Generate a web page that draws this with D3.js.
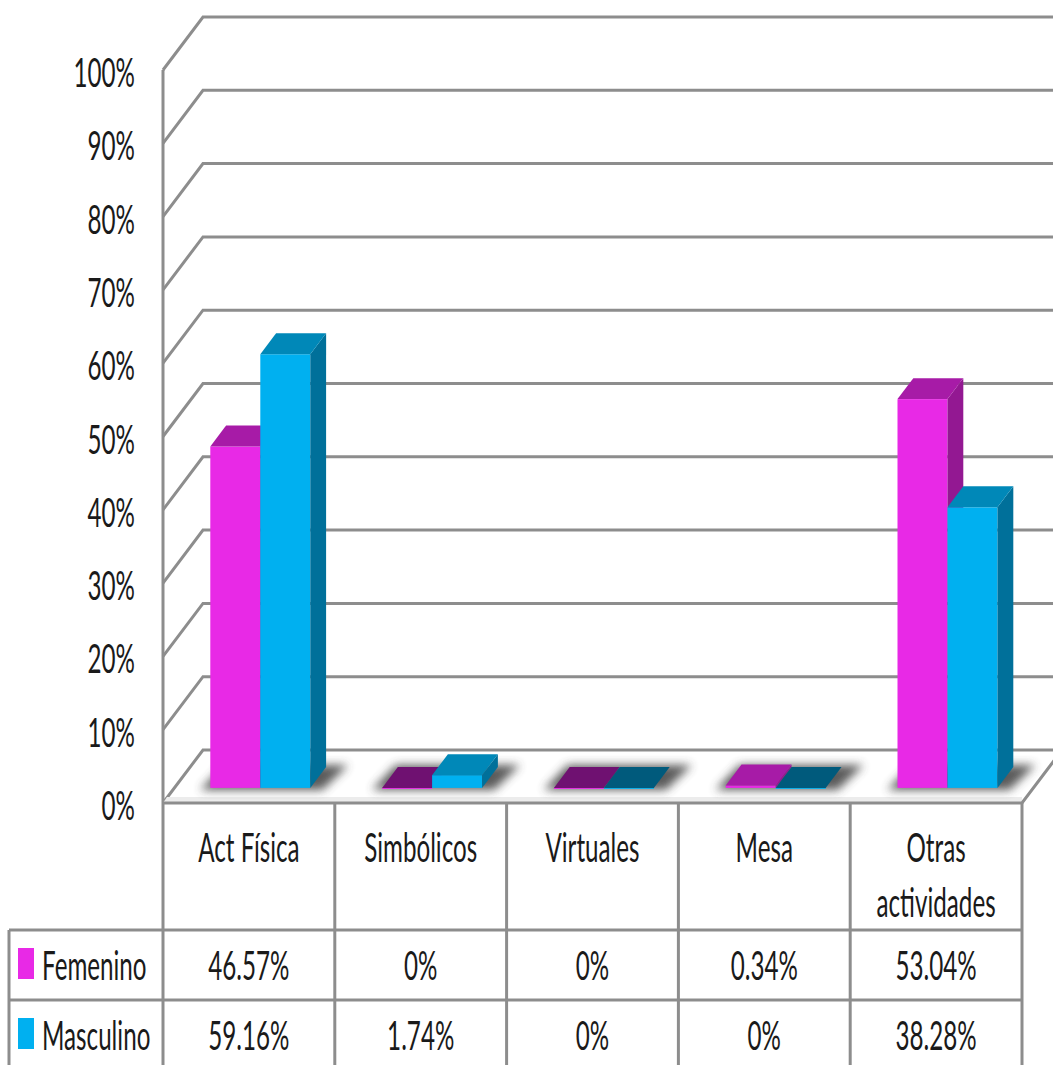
<!DOCTYPE html>
<html>
<head>
<meta charset="utf-8">
<script src="https://cdn.jsdelivr.net/npm/d3@7"></script>
<style>
  html, body { margin: 0; padding: 0; background: #ffffff; }
  svg { display: block; }
  text { font-family: Lato, "Open Sans", sans-serif; font-weight: 400; fill: #1a1a1a; }
</style>
</head>
<body>
<svg id="chart" width="1053" height="1065"></svg>
<script>
// ---- data ----
const categories = ["Act Física", "Simbólicos", "Virtuales", "Mesa", "Otras actividades"];
const categoryLines = [["Act Física"], ["Simbólicos"], ["Virtuales"], ["Mesa"], ["Otras", "actividades"]];
const seriesNames = ["Femenino", "Masculino"];
const femenino = [46.57, 0, 0, 0.34, 53.04];
const masculino = [59.16, 1.74, 0, 0, 38.28];
const yTicks = [0, 10, 20, 30, 40, 50, 60, 70, 80, 90, 100];

// ---- look ----
const W = 1053, H = 1065;
const palette = {
  Femenino:  { front: "#e829e6", top: "#a71ba7", side: "#931892", flat: "#6f1171" },
  Masculino: { front: "#00b0f0", top: "#0088b8", side: "#00709a", flat: "#005a7c" }
};
const gridColor = "#8d8d8d";
const SX = 0.59;            // horizontal squeeze of the label font
const FONT = 41;

// plot frame (front plane) and depth of the 3D box
const left = 163, right = 1022, floorY = 803, topY = 70;
const DX = 40, DY = -53;     // full depth offset of the back wall
const tFront = 0.285, tBack = 0.68; // depth slab occupied by the columns

const svg = d3.select("#chart");

const x = d3.scaleBand().domain(categories).range([left, right]).paddingInner(0).paddingOuter(0);
const y = d3.scaleLinear().domain([0, 100]).range([floorY, topY]);
const xs = d3.scaleBand().domain(seriesNames)
  .range([-50, 50]);

function label(g, px, py, s, anchor) {
  g.append("text")
    .attr("transform", `translate(${px},${py}) scale(${SX},1)`)
    .attr("text-anchor", anchor)
    .attr("font-size", FONT)
    .text(s);
}

const defs = svg.append("defs");
defs.append("filter").attr("id", "soft")
  .attr("x", "-30%").attr("y", "-60%").attr("width", "160%").attr("height", "220%")
  .append("feGaussianBlur").attr("stdDeviation", 5);

// ---- walls: gridlines on the side wall and back wall ----
const grid = svg.append("g").attr("stroke", gridColor).attr("stroke-width", 3).attr("fill", "none");
yTicks.forEach(t => {
  const yf = y(t);
  grid.append("path").attr("d", `M${left},${yf}L${left + DX},${yf + DY}L${W + 5},${yf + DY}`);
});
// left edge of the wall
grid.append("line").attr("x1", left).attr("x2", left).attr("y1", y(100)).attr("y2", H + 2);

// ---- floor ----
const floor = svg.append("g");
floor.append("path")
  .attr("d", `M${left},${floorY}L${right},${floorY}L${right},${floorY - 6}L${left + 4},${floorY - 6}Z`)
  .attr("fill", "#ececec");
floor.append("path")
  .attr("d", `M${left},${floorY}L${right},${floorY}L${right + DX},${floorY + DY}`)
  .attr("fill", "none").attr("stroke", gridColor).attr("stroke-width", 3);

// ---- columns ----
const rows = categories.map((c, i) => ({ cat: c, vals: [femenino[i], masculino[i]] }));
const fx = DX * tFront, fy = DY * tFront;
const bdx = DX * (tBack - tFront), bdy = DY * (tBack - tFront);

const bars = svg.append("g");
rows.forEach(r => {
  const cx = x(r.cat) + x.bandwidth() / 2 + fx;
  const base = floorY + fy;
  const gx0 = cx + xs(seriesNames[0]);
  const gx1 = cx + xs(seriesNames[1]) + xs.bandwidth();

  // soft floor shadow under the pair of columns
  bars.append("path")
    .attr("d", `M${gx0 - 10},${base + 2}L${gx1 + 12},${base + 2}L${gx1 + bdx + 22},${base + bdy - 2}L${gx0 + bdx - 2},${base + bdy - 2}Z`)
    .attr("fill", "#4a4a4a").attr("opacity", 0.9).attr("filter", "url(#soft)");

  r.vals.forEach((v, k) => {
    const s = seriesNames[k];
    const col = palette[s];
    const x0 = cx + xs(s), x1 = x0 + xs.bandwidth();
    const yt = base - (floorY - y(v));
    // front face
    bars.append("rect").attr("x", x0).attr("y", yt).attr("width", x1 - x0).attr("height", Math.max(base - yt, 1))
      .attr("fill", col.front);
    // side face
    bars.append("path")
      .attr("d", `M${x1},${yt}L${x1 + bdx},${yt + bdy}L${x1 + bdx},${base + bdy}L${x1},${base}Z`)
      .attr("fill", col.side);
    // top face
    bars.append("path")
      .attr("d", `M${x0},${yt}L${x1},${yt}L${x1 + bdx},${yt + bdy}L${x0 + bdx},${yt + bdy}Z`)
      .attr("fill", v === 0 ? col.flat : col.top);
  });
});

// ---- y axis labels ----
const axisG = svg.append("g");
yTicks.forEach(t => label(axisG, 135, y(t) + 17, t + "%", "end"));

// ---- data table ----
const tableG = svg.append("g").attr("stroke", gridColor).attr("stroke-width", 3).attr("fill", "none");
const rowTop = 930, rowMid = 1000;
const legendLeft = 9;
x.domain().forEach((c, i) => {
  tableG.append("line").attr("x1", x(c) + x.bandwidth()).attr("x2", x(c) + x.bandwidth())
    .attr("y1", floorY).attr("y2", H + 2);
});
[rowTop, rowMid].forEach(yy => {
  tableG.append("line").attr("x1", legendLeft).attr("x2", right).attr("y1", yy).attr("y2", yy);
});
tableG.append("line").attr("x1", legendLeft).attr("x2", legendLeft).attr("y1", rowTop).attr("y2", H + 2);

const textG = svg.append("g");
categoryLines.forEach((lines, i) => {
  const cx = x(categories[i]) + x.bandwidth() / 2;
  lines.forEach((ln, j) => label(textG, cx, 862 + j * 55, ln, "middle"));
});

const seriesVals = [femenino, masculino];
const rowBase = [980, 1050];
seriesNames.forEach((s, k) => {
  textG.append("rect").attr("x", 18).attr("y", rowBase[k] - 32).attr("width", 16).attr("height", 31)
    .attr("fill", palette[s].front);
  label(textG, 42, rowBase[k], s, "start");
  seriesVals[k].forEach((v, i) => {
    label(textG, x(categories[i]) + x.bandwidth() / 2, rowBase[k], v + "%", "middle");
  });
});
</script>
</body>
</html>
